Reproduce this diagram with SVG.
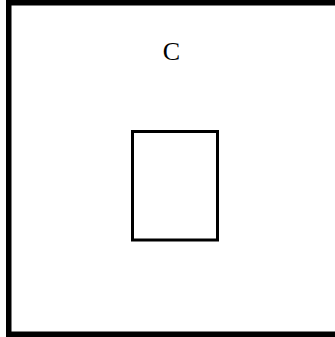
<svg xmlns="http://www.w3.org/2000/svg" width="335" height="337" viewBox="0 0 335 337">
<style>
.box{fill:none;stroke:#000}
.lbl{font-family:"Liberation Serif","Times New Roman",serif;font-size:26px;fill:#000;text-anchor:middle}
</style>
<rect width="335" height="337" fill="#fff"/>
<g id="outer">
<rect class="box" x="8.75" y="2.75" width="330" height="331.5" stroke-width="5.5"/>
<text class="lbl" x="171.5" y="60">C</text>
</g>
<g id="inner">
<rect class="box" x="132.5" y="131.5" width="85" height="108.5" stroke-width="3"/>
</g>
<g id="connectors"/>
</svg>
